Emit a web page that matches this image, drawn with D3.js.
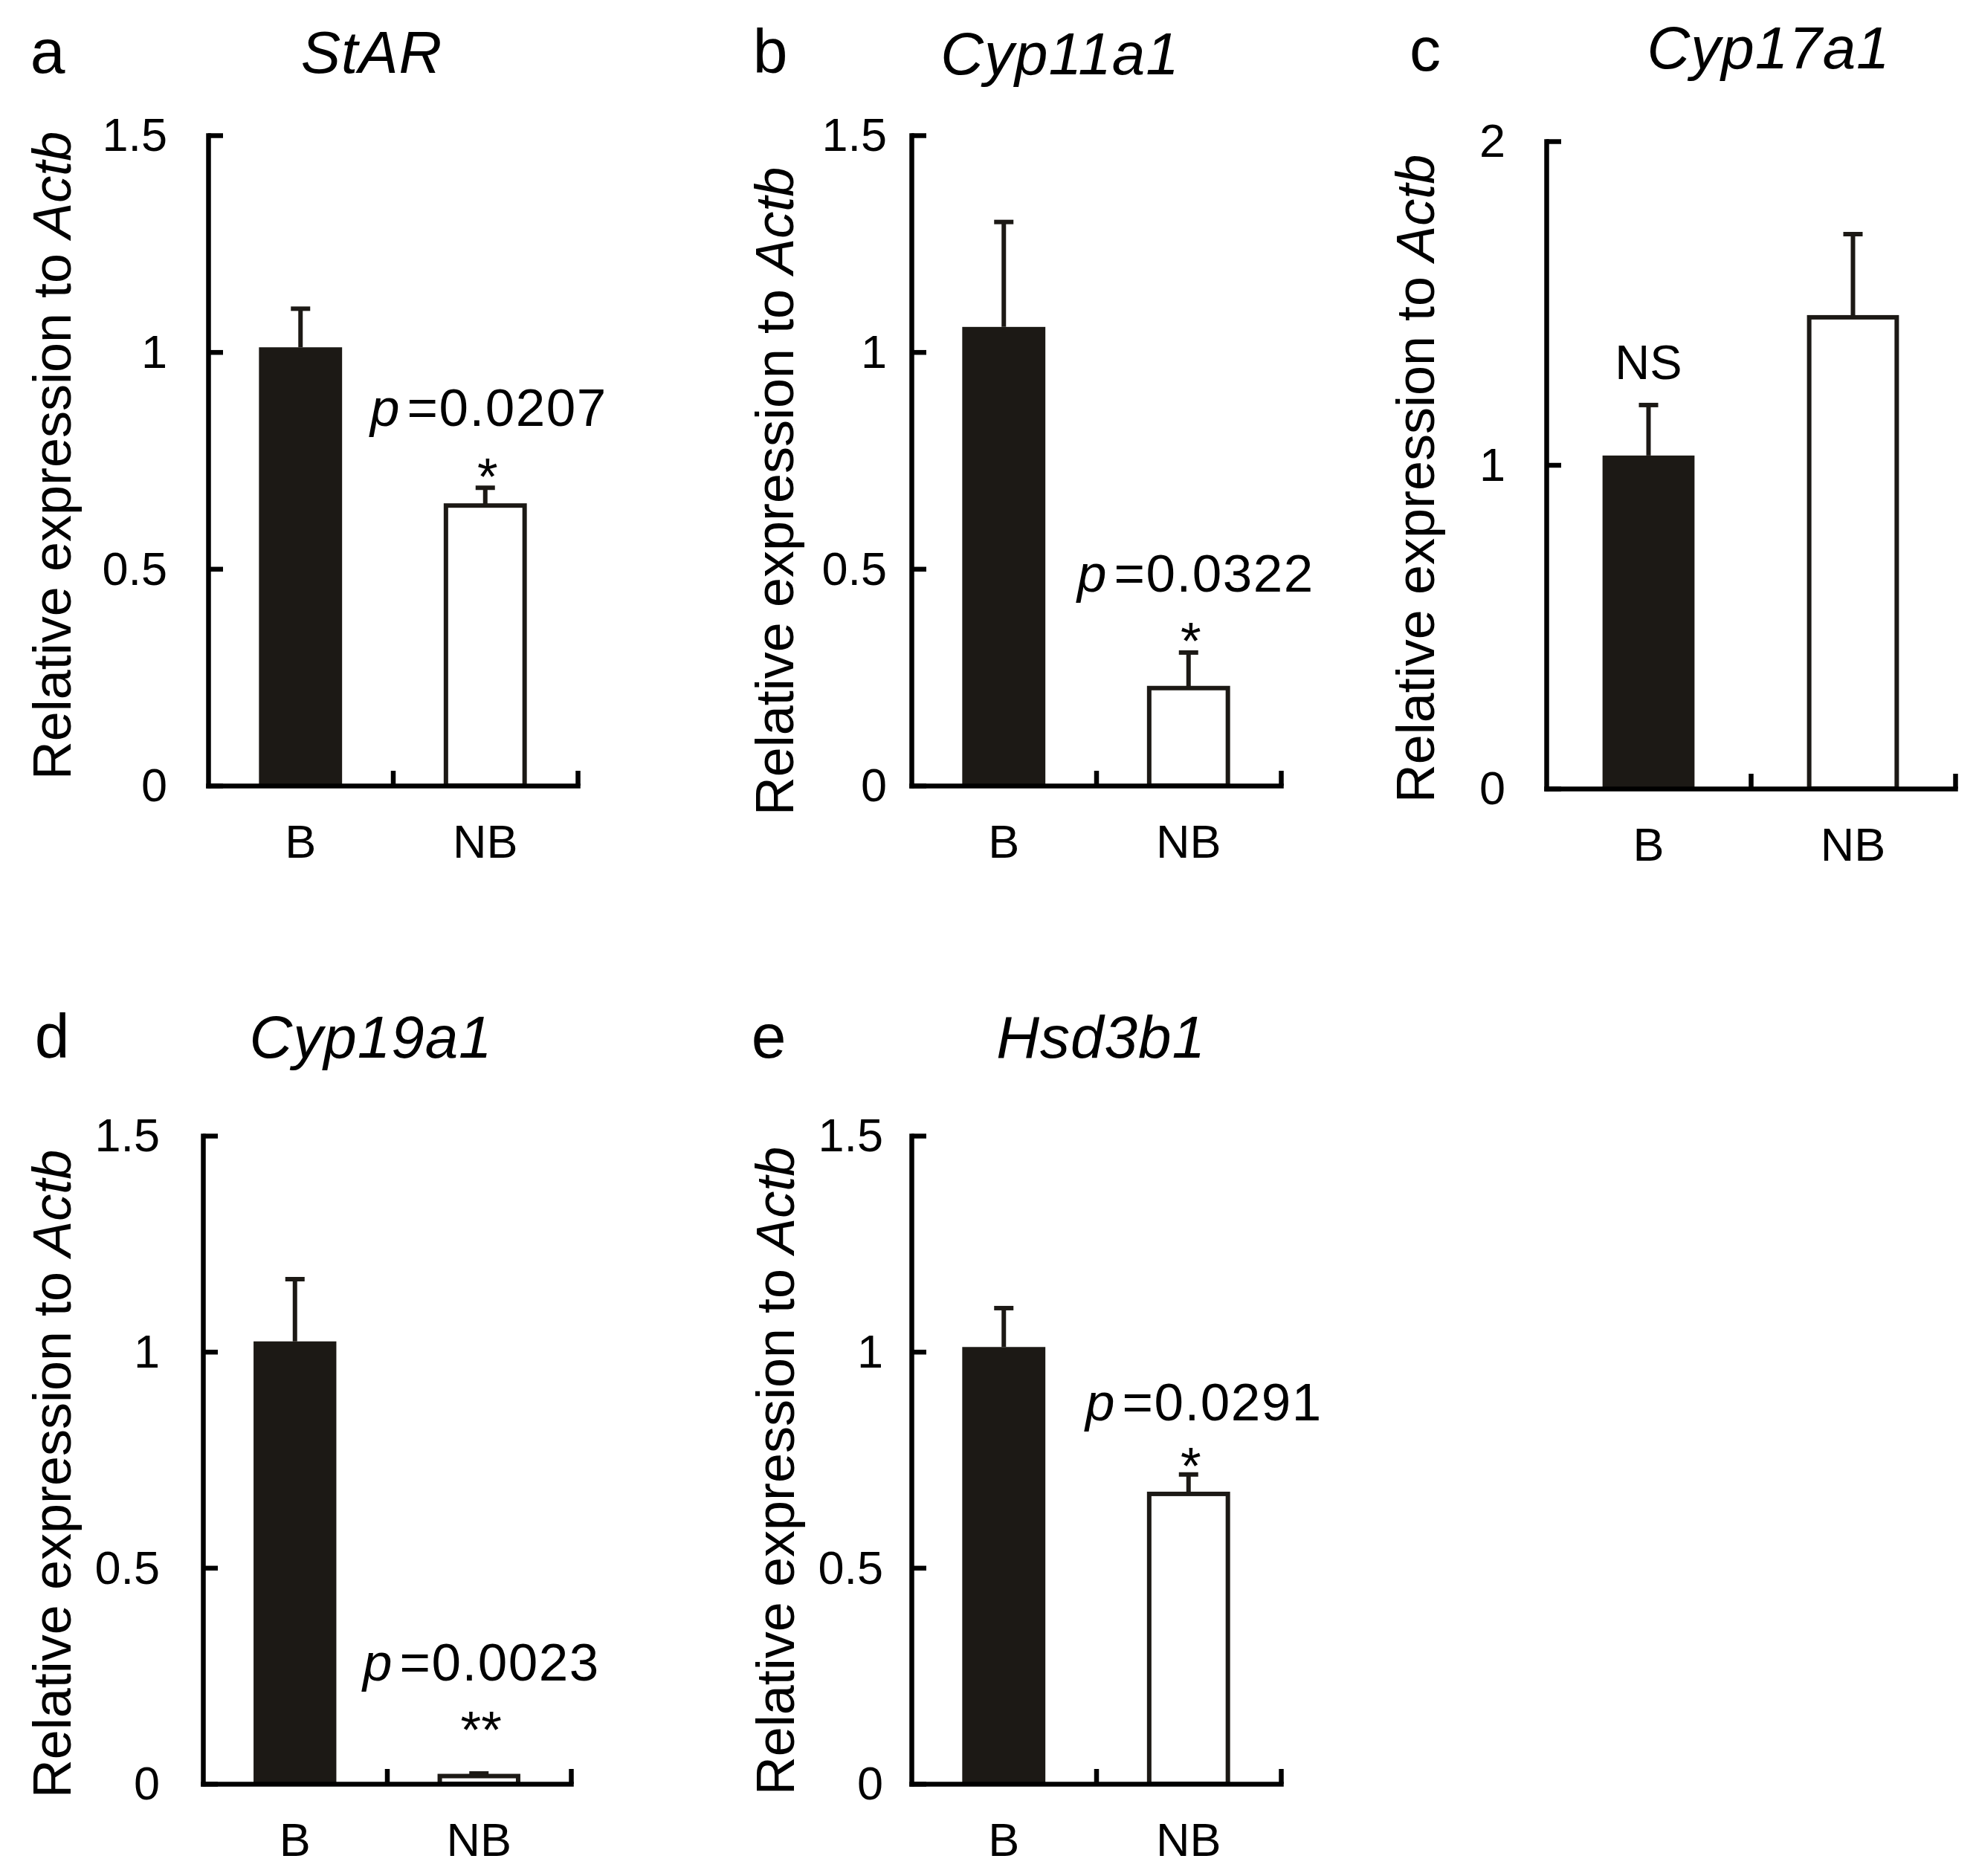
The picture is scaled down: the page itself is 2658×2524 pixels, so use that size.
<!DOCTYPE html>
<html>
<head>
<meta charset="utf-8">
<script src="https://cdn.jsdelivr.net/npm/d3@7"></script>
<style>
  html, body { margin: 0; padding: 0; background: #ffffff; }
  svg { display: block; }
  text { font-family: "Liberation Sans", Arial, "DejaVu Sans", sans-serif; fill: #000; }
</style>
</head>
<body>
<script>
// ---------- data ----------
const panelLetters = ["a", "b", "c", "d", "e"];
const genes = ["StAR", "Cyp11a1", "Cyp17a1", "Cyp19a1", "Hsd3b1"];
const groups = ["B", "NB"];
const meanB = [1.011, 1.058, 1.029, 1.024, 1.011];
const meanNB = [0.646, 0.225, 1.456, 0.018, 0.671];
const errB = [0.089, 0.242, 0.156, 0.144, 0.090];
const errNB = [0.041, 0.082, 0.257, 0.006, 0.045];
const yMax = [1.5, 1.5, 2, 1.5, 1.5];
const yTickValues = [[0, 0.5, 1, 1.5], [0, 0.5, 1, 1.5], [0, 1, 2], [0, 0.5, 1, 1.5], [0, 0.5, 1, 1.5]];
const pValues = ["0.0207", "0.0322", null, "0.0023", "0.0291"];
const sigMarks = ["*", "*", "NS", "**", "*"];
const yAxisTitle = "Relative expression to ";
const yAxisTitleGene = "Actb";

// ---------- layout (pixels) ----------
const layout = [
  { x0: 280,  x1: 777,  yTop: 182,  yZero: 1057, tickGap: 55, ylabOff: 185, ylabY: 613,
    letterX: 64,   letterY: 98,   titleX: 500,  titleY: 98,
    pX: 498,  pY: 573,  sigY: 666 },
  { x0: 1226, x1: 1723, yTop: 182,  yZero: 1057, tickGap: 33, ylabOff: 159, ylabY: 661,
    letterX: 1036, letterY: 98,   titleX: 1426, titleY: 100,
    pX: 1449, pY: 796,  sigY: 887 },
  { x0: 2080, x1: 2630, yTop: 190,  yZero: 1061, tickGap: 55, ylabOff: 151, ylabY: 644,
    letterX: 1917, letterY: 95,   titleX: 2379, titleY: 92,
    pX: null, pY: null, sigY: 510 },
  { x0: 273,  x1: 768,  yTop: 1528, yZero: 2400, tickGap: 58, ylabOff: 178, ylabY: 1983,
    letterX: 70,   letterY: 1423, titleX: 499,  titleY: 1423,
    pX: 488,  pY: 2261, sigY: 2352 },
  { x0: 1226, x1: 1723, yTop: 1528, yZero: 2400, tickGap: 38, ylabOff: 158, ylabY: 1979,
    letterX: 1034, letterY: 1423, titleX: 1481, titleY: 1423,
    pX: 1460, pY: 1911, sigY: 1997 }
];

const W = 2658, H = 2524;
const barBlack = "#1c1915";
const lw = 6.5;

const svg = d3.select("body").append("svg")
  .attr("width", W).attr("height", H)
  .attr("viewBox", `0 0 ${W} ${H}`);

panelLetters.forEach((letter, i) => {
  const L = layout[i];
  const g = svg.append("g");

  const y = d3.scaleLinear().domain([0, yMax[i]]).range([L.yZero, L.yTop]);
  const x = d3.scaleBand().domain(groups).range([L.x0, L.x1])
    .paddingInner(0.55).paddingOuter(0.275);
  const xTicks = d3.scaleLinear().domain([0, 2]).range([L.x0, L.x1]);

  const data = [
    { g: "B", v: meanB[i], e: errB[i] },
    { g: "NB", v: meanNB[i], e: errNB[i] }
  ];

  // error bars (upper)
  data.forEach(d => {
    const cx = x(d.g) + x.bandwidth() / 2;
    g.append("line")
      .attr("x1", cx).attr("x2", cx)
      .attr("y1", y(d.v)).attr("y2", y(d.v + d.e))
      .attr("stroke", barBlack).attr("stroke-width", 6);
    g.append("line")
      .attr("x1", cx - 13).attr("x2", cx + 13)
      .attr("y1", y(d.v + d.e)).attr("y2", y(d.v + d.e))
      .attr("stroke", barBlack).attr("stroke-width", 6);
  });

  // bars
  g.selectAll("rect.bar").data(data).enter().append("rect")
    .attr("class", "bar")
    .attr("x", d => d.g === "B" ? x(d.g) : x(d.g) + 3)
    .attr("width", d => d.g === "B" ? x.bandwidth() : x.bandwidth() - 6)
    .attr("y", d => y(d.v))
    .attr("height", d => y(0) - y(d.v))
    .attr("fill", d => d.g === "B" ? barBlack : "#ffffff")
    .attr("stroke", d => d.g === "B" ? "none" : barBlack)
    .attr("stroke-width", 6);

  // y axis
  const yAxis = d3.axisLeft(y).tickValues(yTickValues[i])
    .tickFormat(d3.format("~g")).tickSize(-20).tickSizeOuter(0).tickPadding(L.tickGap);
  const ya = g.append("g").attr("transform", `translate(${L.x0},0)`).call(yAxis);
  ya.select(".domain").attr("stroke", "#000").attr("stroke-width", lw)
    .attr("stroke-linecap", "square");
  ya.selectAll(".tick line").attr("stroke", "#000").attr("stroke-width", lw);
  ya.selectAll(".tick text")
    .attr("font-size", 63).attr("font-family", "Liberation Sans, Arial, sans-serif")
    .attr("dy", "0.33em").attr("fill", "#000");

  // x axis: line with ticks at category boundaries
  const xAxisTicks = d3.axisBottom(xTicks).tickValues([1, 2]).tickFormat("")
    .tickSize(-20).tickSizeOuter(0);
  const xa = g.append("g").attr("transform", `translate(0,${L.yZero})`).call(xAxisTicks);
  xa.select(".domain").attr("stroke", "#000").attr("stroke-width", lw)
    .attr("stroke-linecap", "square");
  xa.selectAll(".tick line").attr("stroke", "#000").attr("stroke-width", lw);

  // category labels
  const xLab = d3.axisBottom(x).tickSize(0).tickPadding(52);
  const xl = g.append("g").attr("transform", `translate(0,${L.yZero})`).call(xLab);
  xl.select(".domain").remove();
  xl.selectAll(".tick text")
    .attr("font-size", 63).attr("font-family", "Liberation Sans, Arial, sans-serif")
    .attr("fill", "#000");

  // y axis title
  const yt = g.append("text")
    .attr("transform", `translate(${L.x0 - L.ylabOff},${L.ylabY}) rotate(-90)`)
    .attr("text-anchor", "middle")
    .attr("font-size", 72);
  yt.append("tspan").text(yAxisTitle);
  yt.append("tspan").attr("font-style", "italic").text(yAxisTitleGene);

  // panel letter
  g.append("text")
    .attr("x", L.letterX).attr("y", L.letterY)
    .attr("text-anchor", "middle")
    .attr("font-size", 84)
    .text(letter);

  // gene title
  g.append("text")
    .attr("x", L.titleX).attr("y", L.titleY)
    .attr("text-anchor", "middle")
    .attr("font-size", 80).attr("font-style", "italic")
    .attr("letter-spacing", 1)
    .text(genes[i]);

  // p value
  if (pValues[i]) {
    const pt = g.append("text")
      .attr("x", L.pX).attr("y", L.pY)
      .attr("font-size", 71);
    pt.append("tspan").attr("font-style", "italic").text("p");
    pt.append("tspan").attr("dx", 10).attr("letter-spacing", 1.5).text("=" + pValues[i]);
  }

  // significance mark
  const sigX = sigMarks[i] === "NS" ? x("B") + x.bandwidth() / 2 : x("NB") + x.bandwidth() / 2;
  g.append("text")
    .attr("x", sigX + (sigMarks[i] === "NS" ? 0 : 3)).attr("y", L.sigY)
    .attr("text-anchor", "middle")
    .attr("font-size", sigMarks[i] === "NS" ? 65 : 71)
    .text(sigMarks[i]);
});
</script>
</body>
</html>
